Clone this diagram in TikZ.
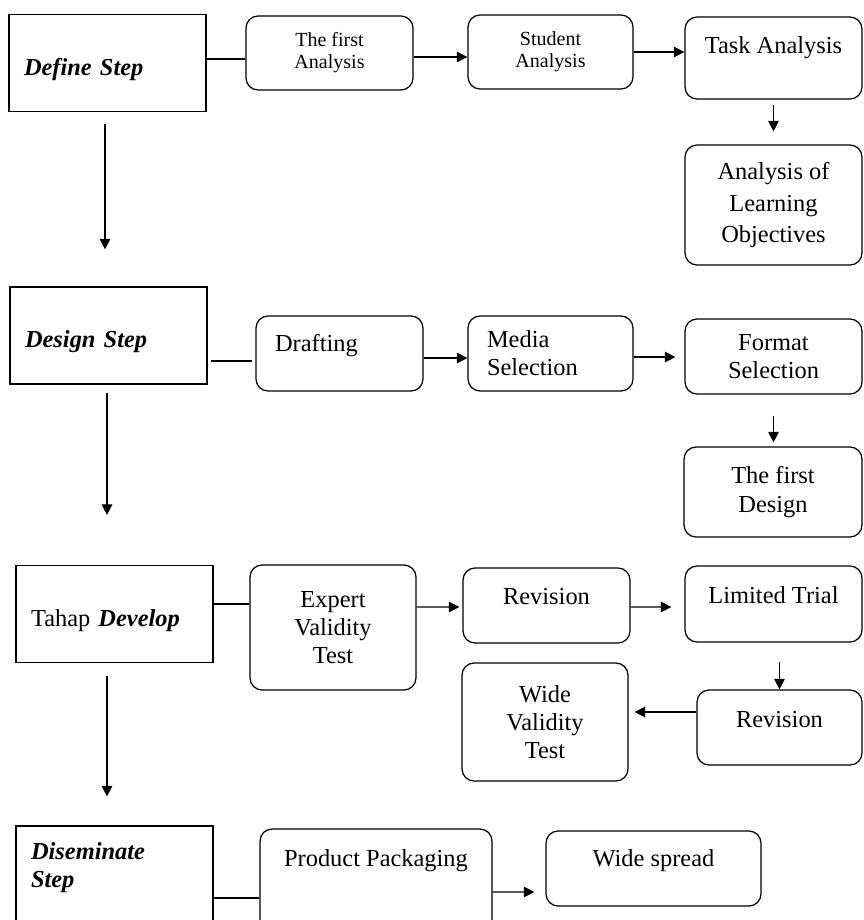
\documentclass[tikz,border=0pt]{standalone}
\usepackage{fontspec}
\setmainfont{Liberation Serif}
\usepackage{tikz}
\usetikzlibrary{arrows.meta, shapes, calc}

\begin{document}
\begin{tikzpicture}[x=0.02cm, y=-0.02cm]
\useasboundingbox (0,0) rectangle (863,920);

\begin{scope}[every node/.style={rectangle,draw,line width=0.7pt,inner xsep=0.3cm,text width=3.34cm,align=left,minimum height=1.94cm,text height=14pt,text depth=0pt,font=\fontsize{13.9}{16}\selectfont}]
  \node (Define) at (107.5,63) {\textbf{\textit{Define Step}}};
  \node (Design) at (108.5,335.5) {\textbf{\textit{Design Step}}};
  \node (Develop) at (114.5,614) {Tahap \textbf{\textit{Develop}}};
  \node[minimum height=2.2cm,text height=10pt,text depth=35pt] (Dissem) at (114.5,881) {\textbf{\textit{Diseminate}}\\\textbf{\textit{Step}}};
\end{scope}

\begin{scope}[every node/.style={rectangle,rounded corners=0.24cm,draw,line width=0.7pt,align=center,minimum height=1.5cm,font=\fontsize{13.9}{16}\selectfont}]
  \node[minimum width=3.34cm,minimum height=1.48cm,font=\fontsize{11.4}{12.5}\selectfont] (First) at (329.5,53) {The first\\Analysis};
  \node[minimum width=3.3cm,minimum height=1.48cm,font=\fontsize{11.4}{12.5}\selectfont] (Student) at (550.5,52) {Student\\Analysis};
  \node[minimum width=3.54cm,minimum height=1.64cm,text height=10pt,text depth=15.6pt] (Task) at (773.5,58) {Task Analysis};
  \node[minimum width=3.54cm,minimum height=2.4cm,font=\fontsize{13.9}{18.2}\selectfont] (LO) at (773.5,205) {Analysis of\\Learning\\Objectives};

  \node[align=left,text width=2.58cm,inner xsep=0.38cm,text height=10pt,text depth=12.8pt] (Drafting) at (339.5,353.5) {Drafting};
  \node[align=left,text width=2.54cm,inner xsep=0.38cm] (Media) at (550.5,353.5) {Media\\Selection};
  \node[minimum width=3.54cm] (Format) at (773.5,356.5) {Format\\Selection};
  \node[minimum width=3.56cm,minimum height=1.8cm] (FirstDesign) at (773,492) {The first\\Design};

  \node[minimum width=3.32cm,minimum height=2.5cm] (Expert) at (333,627.5) {Expert\\Validity\\Test};
  \node[minimum width=3.34cm,text height=10pt,text depth=11.6pt] (Revision) at (546.5,605.5) {Revision};
  \node[minimum width=3.54cm,minimum height=1.52cm,text height=10pt,text depth=11pt] (Limited) at (773.5,604) {Limited Trial};
  \node[minimum width=3.3cm,text height=10pt,text depth=10.4pt] (Rev2) at (779.5,727.5) {Revision};
  \node[minimum width=3.32cm,minimum height=2.36cm] (WideVal) at (545,722) {Wide\\Validity\\Test};

  \node[minimum width=4.64cm,minimum height=2.2cm,text height=10pt,text depth=30.4pt] (Product) at (376,884) {Product Packaging};
  \node[minimum width=4.3cm,text height=10pt,text depth=12.8pt] (Spread) at (653.5,868.5) {Wide spread};
\end{scope}

\begin{scope}[>={Triangle[length=6pt,width=6pt]},
              every edge/.style={draw=black, line width=0.7pt}]
  \path ($(Define.east)+(0,-4)$) edge ($(First.west)+(0,6)$);
  \path[->] ($(First.east)+(0,4)$) edge ($(Student.west)+(0,5)$);
  \path[->] (Student.east) edge (Student.east -| Task.west);
  \path[->] (Task.south) edge[shorten <=0.1cm, shorten >=0.26cm] (LO.north);
  \path[->] ($(Define.south)+(-2.5,0)$) edge[shorten <=0.24cm, shorten >=0.74cm] ($(Define.south |- Design.north)+(-2.5,0)$);

  \path ($(Design.east)+(0,25.5)$) edge[shorten <=0.06cm, shorten >=0.06cm] ($(Drafting.west)+(0,7.5)$);
  \path[->] ($(Drafting.east)+(0,4.5)$) edge ($(Media.west)+(0,4.5)$);
  \path[->] ($(Media.east)+(0,3.5)$) edge[shorten >=0.18cm] ($(Format.west)+(0,0.5)$);
  \path[->] (Format.south) edge[shorten <=0.42cm, shorten >=0.08cm] (Format.south |- FirstDesign.north);
  \path[->] ($(Design.south)+(-1.5,0)$) edge[shorten <=0.16cm, shorten >=1cm] ($(Design.south |- Develop.north)+(-1.5,0)$);

  \path ($(Develop.east)+(0,-10)$) edge ($(Expert.west)+(0,-23.5)$);
  \path[->] ($(Expert.east)+(0,-20.5)$) edge[shorten >=0.06cm] ($(Revision.west)+(0,1.5)$);
  \path[->] ($(Revision.east)+(0,1.5)$) edge[shorten >=0.26cm] ($(Limited.west)+(0,3)$);
  \path[->] (Rev2.north |- Limited.south) edge[shorten <=0.38cm] (Rev2.north);
  \path[->] ($(Rev2.west)+(0,-15.5)$) edge[shorten >=0.12cm] ($(WideVal.east)+(0,-10)$);
  \path[->] ($(Develop.south)+(-7.5,0)$) edge[shorten <=0.26cm, shorten >=0.58cm] ($(Develop.south |- Dissem.north)+(-7.5,0)$);

  \path ($(Dissem.east)+(0,17)$) edge ($(Product.west)+(0,14)$);
  \path[->] ($(Product.east)+(0,8)$) edge[shorten >=0.22cm] ($(Spread.west)+(0,23.5)$);
\end{scope}

\end{tikzpicture}
\end{document}
